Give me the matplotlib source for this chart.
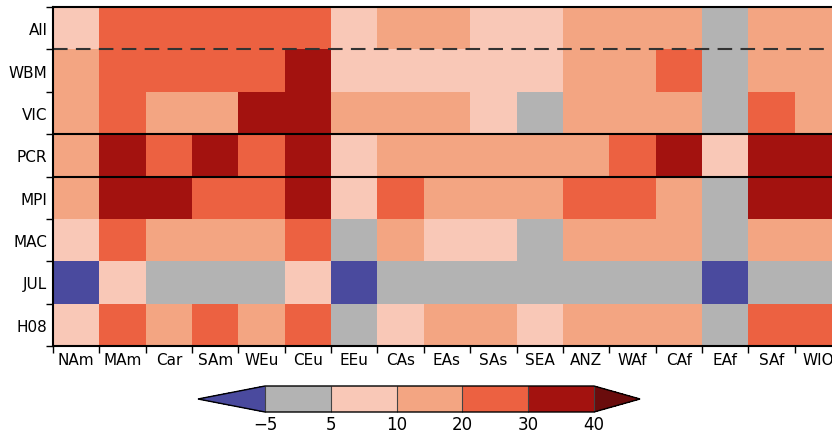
import numpy as np
import matplotlib
matplotlib.use("Agg")
import matplotlib.pyplot as plt
from matplotlib.colors import ListedColormap, BoundaryNorm

regions = ["NAm", "MAm", "Car", "SAm", "WEu", "CEu", "EEu", "CAs", "EAs",
           "SAs", "SEA", "ANZ", "WAf", "CAf", "EAf", "SAf", "WIO"]
models = ["All", "WBM", "VIC", "PCR", "MPI", "MAC", "JUL", "H08"]

# representative values (%)
v_all = [7, 25, 25, 25, 25, 25, 7, 15, 15, 7, 7, 15, 15, 15, 0, 15, 15]
v_wbm = [15, 25, 25, 25, 25, 35, 7, 7, 7, 7, 7, 15, 15, 25, 0, 15, 15]
v_vic = [15, 25, 15, 15, 35, 35, 15, 15, 15, 7, 0, 15, 15, 15, 0, 25, 15]
v_pcr = [15, 35, 25, 35, 25, 35, 7, 15, 15, 15, 15, 15, 25, 35, 7, 35, 35]
v_mpi = [15, 35, 35, 25, 25, 35, 7, 25, 15, 15, 15, 25, 25, 15, 0, 35, 35]
v_mac = [7, 25, 15, 15, 15, 25, 0, 15, 7, 7, 0, 15, 15, 15, 0, 15, 15]
v_jul = [-10, 7, 0, 0, 0, 7, -10, 0, 0, 0, 0, 0, 0, 0, -10, 0, 0]
v_h08 = [7, 25, 15, 25, 15, 25, 0, 7, 15, 15, 7, 15, 15, 15, 0, 25, 25]

bounds = [-5, 5, 10, 20, 30, 40]
bound_labels = ["\u22125", "5", "10", "20", "30", "40"]

data = np.array([v_all, v_wbm, v_vic, v_pcr, v_mpi, v_mac, v_jul, v_h08], dtype=float)

cmap = ListedColormap(["#b3b3b3", "#f9c8b7", "#f3a582", "#ec6141", "#a3120f"])
cmap.set_under("#4a4a9e")
cmap.set_over("#6a0c0c")
norm = BoundaryNorm(bounds, cmap.N)

fig = plt.figure(figsize=(8.32, 4.35), dpi=100)
W, H = 832, 435
x0, x1 = 53, 841
y0, y1 = 8, 347
ax = fig.add_axes([x0 / W, 1 - y1 / H, (x1 - x0) / W, (y1 - y0) / H])

nx, ny = len(regions), len(models)
ax.pcolormesh(np.arange(nx + 1), np.arange(ny + 1), data, cmap=cmap, norm=norm)
ax.set_xlim(0, nx)
ax.set_ylim(ny, 0)

ax.axhline(1, color="#333333", lw=1.5, ls=(0, (7, 4)))
ax.axhline(3, color="black", lw=1.5)
ax.axhline(4, color="black", lw=1.5)

for s in ax.spines.values():
    s.set_linewidth(1.5)
    s.set_color("black")

ax.set_xticks(np.arange(nx + 1))
ax.set_yticks(np.arange(ny + 1))
ax.set_xticklabels([])
ax.set_yticklabels([])
ax.tick_params(which="major", length=5, width=1, direction="out", color="black")
ax.set_xticks(np.arange(nx) + 0.5, minor=True)
ax.set_yticks(np.arange(ny) + 0.5, minor=True)
ax.set_xticklabels(regions, minor=True, fontsize=11)
ax.set_yticklabels(models, minor=True, fontsize=11)
ax.tick_params(which="minor", length=0, pad=4)

cax = fig.add_axes([198 / W, 1 - 413 / H, (640 - 198) / W, 26 / H])
sm = matplotlib.cm.ScalarMappable(norm=norm, cmap=cmap)
cb = fig.colorbar(sm, cax=cax, orientation="horizontal", extend="both",
                  extendfrac=[67 / 329, 46 / 329], spacing="uniform", drawedges=True)
cb.set_ticks(bounds)
cb.set_ticklabels(bound_labels)
cb.ax.tick_params(length=0, labelsize=12, pad=2)
cb.outline.set_linewidth(1)
cb.dividers.set_linewidth(0.8)
cb.dividers.set_color("#444444")

fig.savefig("out.png", dpi=100)
